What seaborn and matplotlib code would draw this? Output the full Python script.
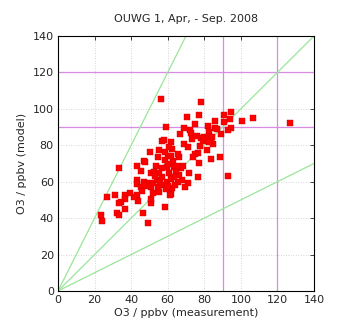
import matplotlib
matplotlib.use("Agg")
import matplotlib.pyplot as plt
import seaborn as sns
import pandas as pd

title = "OUWG 1, Apr, - Sep. 2008"
xlabel = "O3 / ppbv (measurement)"
ylabel = "O3 / ppbv (model)"

measurement = [56.5, 78, 33.4, 126.9, 106.8, 100.8, 94.8, 90.8, 94.1, 94.4, 92.8, 90.6, 89, 88.6, 93,
               83.5, 85.7, 85.9, 82.2, 82.8, 84.9, 81.3, 77.1, 75.1, 72.4, 72.7, 70.4, 68.9, 66.5, 68.7,
               70.9, 73.1, 76.2, 78, 79.5, 77.7, 76.4, 74.8, 73.6, 77.1, 76.7, 71.8, 71.1, 69.4, 66.2,
               65.8, 68.2, 67.4, 66.4, 65.8, 62.5, 61.6, 62.5, 62, 59.1, 56.9, 58, 55.4, 54.5, 53.6,
               50.1, 47.2, 47.6, 43, 45.2, 43.4, 43.2, 45.6, 47, 48.5, 45.8, 43, 43.6, 41.6, 39.4,
               36.8, 36.6, 34.6, 33.2, 36.4, 32.4, 33.4, 31.2, 26.8, 23.3, 23.9, 46.3, 49.4, 58.3,
               50.7, 50.9, 51.8, 50.7, 52.1, 50.7, 52.5, 54, 54.5, 55.4, 56, 57.1, 58.1, 58.9, 59.8,
               60.5, 59.8, 58.3, 60.3, 58.7, 60.5, 62.9, 63.4, 64.3, 63.6, 61.8, 60.3, 64, 67.6, 64.9,
               57.1, 55.4, 53.2, 49.4, 47, 86.8, 79.8, 81.3, 82.8, 83.7, 84, 82.4, 61, 60.2, 62]
model = [105.2, 103.8, 67.7, 92.1, 95.2, 93.3, 98.3, 96.4, 94.6, 89.7, 88.4, 92.8, 86.2, 73.8, 63.3,
         72.3, 93.5, 89.3, 90.6, 87.1, 80.7, 77.4, 96.6, 91.5, 88.6, 86.6, 95.4, 89.7, 86.2, 80.7,
         79.2, 83.3, 85.1, 84.2, 82.5, 79.6, 76, 75.2, 73.8, 70.1, 62.4, 65, 59.5, 56.9, 73.4,
         75.2, 68.6, 67.4, 63.7, 60, 56.4, 53.1, 78, 82, 90.2, 82.5, 82.9, 77.4, 73.4, 68.6,
         76.3, 71.4, 70.8, 68.8, 66, 61, 58.6, 57.3, 60, 59.5, 55.1, 52.7, 49.6, 51.8, 53.6,
         52.9, 50.7, 48.9, 48.5, 44.8, 42.6, 41.9, 52.7, 51.8, 41.5, 38.4, 43, 37.5, 45.9,
         48.1, 50.3, 54, 56.9, 59.5, 64.6, 65.3, 60.9, 57.3, 54.2, 60, 62.8, 58, 55.8, 60,
         64.6, 68.3, 71.9, 74.1, 76.5, 79.2, 71.6, 68.3, 66.1, 62.8, 61.3, 57.6, 58.2, 60.9, 68.6,
         67.4, 64.6, 63.3, 57.8, 58.2, 88.8, 84.4, 83.3, 84.7, 82.9, 84.4, 81.6, 52.9, 70, 74]

ratios = [0.5, 1.0, 2.0]
thresholds = [90, 120]
ticks = [0, 20, 40, 60, 80, 100, 120, 140]

df = pd.DataFrame({"measurement": measurement, "model": model})

sns.set_style("white")
plt.rcParams['font.family'] = ['DejaVu Sans']

fig = plt.figure(figsize=(3.47, 3.27), dpi=100)
ax = fig.add_axes([58/347, 1-291/327, 256/347, 255/327])

for v in ticks:
    ax.axvline(v, color="#c8c8c8", lw=0.6, ls=(0, (1, 2)), zorder=0)
    ax.axhline(v, color="#c8c8c8", lw=0.6, ls=(0, (1, 2)), zorder=0)

for t in thresholds:
    ax.axvline(t, color="#d88ce0", lw=0.9, zorder=1)
    ax.axhline(t, color="#d88ce0", lw=0.9, zorder=1)

for r in ratios:
    ax.axline((0, 0), slope=r, color="#99e699", lw=0.9, zorder=1)

sns.scatterplot(data=df, x="measurement", y="model", ax=ax, marker="s", s=14,
                color="#ff0000", edgecolor="#cc0000", linewidth=0.3, zorder=3)

ax.set_xlim(0, 140)
ax.set_ylim(0, 140)
ax.set_xticks(ticks)
ax.set_yticks(ticks)
ax.tick_params(axis="both", labelsize=8, direction="in", length=3, width=0.6,
               top=True, right=True, pad=3)
for s in ax.spines.values():
    s.set_linewidth(0.8)
    s.set_color("black")
ax.set_xlabel(xlabel, fontsize=8, labelpad=2)
ax.set_ylabel(ylabel, fontsize=8, labelpad=4)
ax.set_title(title, fontsize=8, pad=10)

fig.savefig("out.png", dpi=100)
